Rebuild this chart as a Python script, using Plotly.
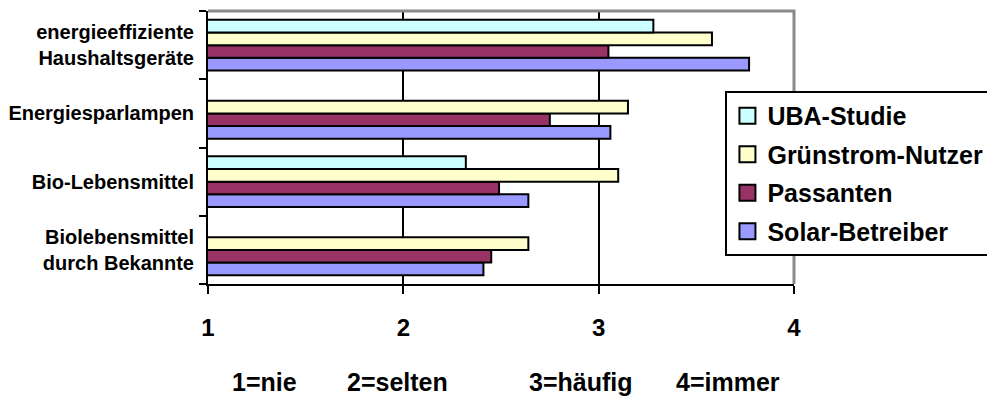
import plotly.graph_objects as go

# Categories listed bottom-to-top as they appear on the y axis
categories = [
    "Biolebensmittel<br>durch Bekannte",
    "Bio-Lebensmittel",
    "Energiesparlampen",
    "energieeffiziente<br>Haushaltsgeräte",
]

# Mean frequency ratings (1=nie ... 4=immer); None = no value
solar_betreiber = [2.41, 2.64, 3.06, 3.77]
passanten = [2.45, 2.49, 2.75, 3.05]
gruenstrom_nutzer = [2.64, 3.10, 3.15, 3.58]
uba_studie = [None, 2.32, None, 3.28]

series_names = ["UBA-Studie", "Grünstrom-Nutzer", "Passanten", "Solar-Betreiber"]
series_values = [uba_studie, gruenstrom_nutzer, passanten, solar_betreiber]
series_colors = ["#CCFFFF", "#FFFFCC", "#993366", "#9999FF"]

x_ticks = [1, 2, 3, 4]
scale_labels = ["1=nie", "2=selten", "3=häufig", "4=immer"]
scale_label_pos = [0.097, 0.324, 0.636, 0.887]

FONT = "Liberation Sans, Arial, sans-serif"

fig = go.Figure()

# Bars: first trace sits at the bottom of each group, so add in reverse order
for name, vals, col in reversed(list(zip(series_names, series_values, series_colors))):
    fig.add_trace(go.Bar(
        y=categories, x=vals, orientation="h", name=name,
        marker=dict(color=col, line=dict(color="black", width=2)),
        showlegend=False, hoverinfo="x+name",
    ))

# Legend entries with larger square swatches
for i, (name, col) in enumerate(zip(series_names, series_colors)):
    fig.add_trace(go.Scatter(
        x=[None], y=[None], mode="markers", name=name,
        legendgroup=f"g{i}",
        marker=dict(symbol="square", size=16, color=col,
                    line=dict(color="black", width=2)),
    ))

# Grey frame on top and right of the plot area
fig.add_shape(type="path", xref="paper", yref="paper",
              path="M 0 1 L 1 1 L 1 0", line=dict(color="#8a8a8a", width=3),
              layer="above")

for txt, px in zip(scale_labels, scale_label_pos):
    fig.add_annotation(text=txt, xref="paper", yref="paper", x=px, y=-0.36,
                       showarrow=False, xanchor="center", yanchor="middle",
                       font=dict(family=FONT, size=25, color="black", weight="bold"))

fig.update_layout(
    width=987, height=396,
    margin=dict(l=208, r=193, t=11, b=112, autoexpand=False),
    paper_bgcolor="white", plot_bgcolor="white",
    barmode="group", bargap=0.26, bargroupgap=0,
    font=dict(family=FONT, color="black", weight="bold"),
    legend=dict(
        x=0.883, y=0.707, xanchor="left", yanchor="top",
        bgcolor="white", bordercolor="black", borderwidth=2,
        font=dict(family=FONT, size=25, color="black", weight="bold"),
        tracegroupgap=3, itemwidth=30,
    ),
    showlegend=True,
)

fig.update_xaxes(
    range=[1, 4], tickvals=x_ticks, ticktext=[str(t) for t in x_ticks],
    showgrid=True, gridcolor="black", gridwidth=2,
    showline=True, linecolor="black", linewidth=2,
    ticks="outside", ticklen=8, tickwidth=2, tickcolor="black",
    ticklabelstandoff=13,
    tickfont=dict(family=FONT, size=24, color="black", weight="bold"),
    zeroline=False, fixedrange=True,
)
fig.update_yaxes(
    type="category", categoryorder="array", categoryarray=categories,
    tickson="boundaries", showgrid=False,
    showline=True, linecolor="black", linewidth=2,
    ticks="outside", ticklen=7, tickwidth=2, tickcolor="black",
    ticklabelstandoff=8,
    tickfont=dict(family=FONT, size=20, color="black", weight="bold"),
    zeroline=False, fixedrange=True,
)

fig.write_html("out.html")
